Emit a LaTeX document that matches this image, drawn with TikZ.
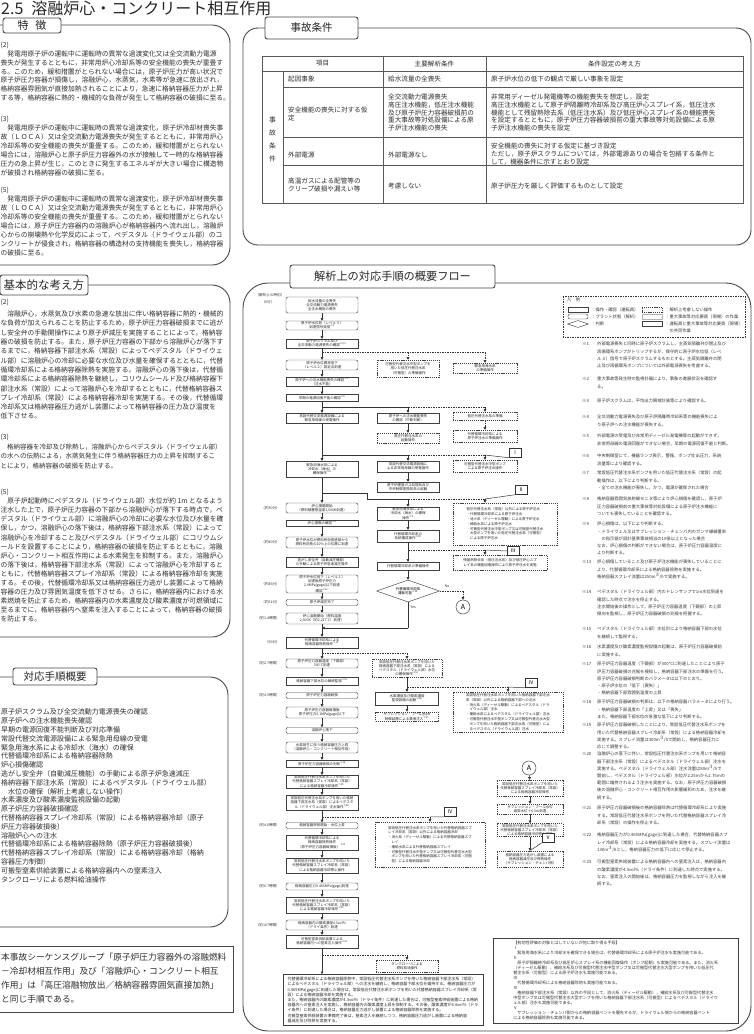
\documentclass[tikz,border=0pt]{standalone}
\usepackage{fontspec}
\setmainfont{Noto Sans CJK JP}
\usetikzlibrary{arrows.meta,shapes.geometric}
\newcommand{\flowbox}[6]{\node[#1, minimum width=#4pt, minimum height=#5pt] (#2) at (#3) {#6};}
\newcommand{\sref}[1]{\textsuperscript{※#1}}
\newcommand{\noteitem}[4]{\node[ntx] (#1a) at (582,#2) {※#3}; \node[ntx] (#1b) at (597,#2) {#4};}
\begin{document}
\begin{tikzpicture}[x=1pt,y=-1pt,
  panel/.style={draw=black!72, line width=0.9pt},
  tabl/.style={draw=black!65, line width=0.5pt},
  lblbox/.style={draw=black!72, line width=0.9pt, fill=white, rounded corners=2.5pt, inner sep=0pt, text=black!85},
  body/.style={anchor=north west, align=left, inner sep=0pt, text=black!82, font=\fontsize{6.75}{9}\selectfont},
  tt/.style={anchor=west, align=left, inner sep=0pt, text=black!82, font=\fontsize{6.6}{7.8}\selectfont},
  op/.style={draw=black!75, line width=0.45pt, fill=white, align=center, inner sep=0.3pt, text=black!85, font=\fontsize{3.5}{4.2}\selectfont},
  st/.style={op, rounded corners=2pt},
  nop/.style={op, dash pattern=on 1.2pt off 0.9pt},
  lst/.style={nop, align=left, font=\fontsize{3.5}{4.8}\selectfont},
  arr/.style={draw=black!80, line width=0.5pt, -{Triangle[length=2.6pt,width=2.6pt]}},
  darr/.style={arr, dash pattern=on 1.5pt off 1pt},
  dln/.style={draw=black!80, line width=0.5pt, dash pattern=on 1.5pt off 1pt},
  sln/.style={draw=black!80, line width=0.5pt},
  tlab/.style={anchor=east, inner sep=0pt, font=\fontsize{3.6}{4.2}\selectfont, text=black!80},
  roman/.style={draw=black!80, line width=0.5pt, fill=white, inner sep=0.5pt, minimum width=12pt, minimum height=9pt, font=\fontsize{5}{5}\selectfont},
  ntx/.style={anchor=north west, align=left, inner sep=0pt, text=black!78, font=\fontsize{4.3}{7.2}\selectfont},
]
\useasboundingbox (0,0) rectangle (753,1034);
\clip (0,0) rectangle (753,1034);
\fill[white] (0,0) rectangle (753,1034);

% ---------------- title
\node[anchor=base west, inner sep=0pt, font=\fontsize{16}{16}\selectfont, text=black!85] (title) at (1,14.6) {2.5\hspace{8pt}溶融炉心・コンクリート相互作用};

% ---------------- left panels
\draw[panel, rounded corners=18pt] (-30,25) rectangle (230,265);
\node[lblbox, minimum width=58pt, minimum height=15pt, font=\fontsize{11}{11}\selectfont] (tokucho) at (32,25.5) {特\hspace{7pt}徴};

\node[body] (t2l) at (0.5,41.7) {(2)};
\node[body, font=\fontsize{6.75}{8.75}\selectfont] (t2) at (0.5,50.7) {　発電用原子炉の運転中に運転時の異常な過渡変化又は全交流動力電源\\
喪失が発生するとともに，非常用炉心冷却系等の安全機能の喪失が重畳す\\
る。このため，緩和措置がとられない場合には，原子炉圧力が高い状況で\\
原子炉圧力容器が損傷し，溶融炉心，水蒸気，水素等が急速に放出され，\\
格納容器雰囲気が直接加熱されることにより，急速に格納容器圧力が上昇\\
する等，格納容器に熱的・機械的な負荷が発生して格納容器の破損に至る。};

\node[body] (t3l) at (0.5,115.7) {(3)};
\node[body] (t3) at (0.5,124.7) {　発電用原子炉の運転中に運転時の異常な過渡変化，原子炉冷却材喪失事\\
故（ＬＯＣＡ）又は全交流動力電源喪失が発生するとともに，非常用炉心\\
冷却系等の安全機能の喪失が重畳する。このため，緩和措置がとられない\\
場合には，溶融炉心と原子炉圧力容器外の水が接触して一時的な格納容器\\
圧力の急上昇が生じ，このときに発生するエネルギが大きい場合に構造物\\
が破損され格納容器の破損に至る。};

\node[body] (t5l) at (0.5,186.7) {(5)};
\node[body] (t5) at (0.5,195.7) {　発電用原子炉の運転中に運転時の異常な過渡変化，原子炉冷却材喪失事\\
故（ＬＯＣＡ）又は全交流動力電源喪失が発生するとともに，非常用炉心\\
冷却系等の安全機能の喪失が重畳する。このため，緩和措置がとられない\\
場合には，原子炉圧力容器内の溶融炉心が格納容器内へ流れ出し，溶融炉\\
心からの崩壊熱や化学反応によって，ペデスタル（ドライウェル部）のコ\\
ンクリートが侵食され，格納容器の構造材の支持機能を喪失し，格納容器\\
の破損に至る。};

\draw[panel, rounded corners=18pt] (-30,285) rectangle (230,637);
\node[lblbox, minimum width=88pt, minimum height=20pt, font=\fontsize{11.5}{11.5}\selectfont] (kihon) at (44,285) {基本的な考え方};

\node[body] (k2l) at (0.5,298.7) {(2)};
\node[body, font=\fontsize{6.75}{9.3}\selectfont] (k2) at (0.5,310.7) {　溶融炉心，水蒸気及び水素の急速な放出に伴い格納容器に熱的・機械的\\
な負荷が加えられることを防止するため，原子炉圧力容器破損までに逃が\\
し安全弁の手動開操作により原子炉減圧を実施することによって，格納容\\
器の破損を防止する。また，原子炉圧力容器の下部から溶融炉心が落下す\\
るまでに，格納容器下部注水系（常設）によってペデスタル（ドライウェ\\
ル部）に溶融炉心の冷却に必要な水位及び水量を確保するとともに，代替\\
循環冷却系による格納容器除熱を実施する。溶融炉心の落下後は，代替循\\
環冷却系による格納容器除熱を継続し，コリウムシールド及び格納容器下\\
部注水系（常設）によって溶融炉心を冷却するとともに，代替格納容器ス\\
プレイ冷却系（常設）による格納容器冷却を実施する。その後，代替循環\\
冷却系又は格納容器圧力逃がし装置によって格納容器の圧力及び温度を\\
低下させる。};

\node[body] (k3l) at (0.5,433.7) {(3)};
\node[body, font=\fontsize{6.5}{9.5}\selectfont] (k3) at (0.5,443.7) {　格納容器を冷却及び除熱し，溶融炉心からペデスタル（ドライウェル部）\\
の水への伝熱による，水蒸気発生に伴う格納容器圧力の上昇を抑制するこ\\
とにより，格納容器の破損を防止する。};

\node[body] (k5l) at (0.5,488.7) {(5)};
\node[body, font=\fontsize{6.75}{9.1}\selectfont] (k5) at (0.5,497.7) {　原子炉起動時にペデスタル（ドライウェル部）水位が約 1m となるよう\\
注水した上で，原子炉圧力容器の下部から溶融炉心が落下する時点で，ペ\\
デスタル（ドライウェル部）に溶融炉心の冷却に必要な水位及び水量を確\\
保し，かつ，溶融炉心の落下後は，格納容器下部注水系（常設）によって\\
溶融炉心を冷却すること及びペデスタル（ドライウェル部）にコリウムシ\\
ールドを設置することにより，格納容器の破損を防止するとともに，溶融\\
炉心・コンクリート相互作用による水素発生を抑制する。また，溶融炉心\\
の落下後は，格納容器下部注水系（常設）によって溶融炉心を冷却すると\\
ともに，代替格納容器スプレイ冷却系（常設）による格納容器冷却を実施\\
する。その後，代替循環冷却系又は格納容器圧力逃がし装置によって格納\\
容器の圧力及び雰囲気温度を低下させる。さらに，格納容器内における水\\
素燃焼を防止するため，格納容器内の水素濃度及び酸素濃度が可燃領域に\\
至るまでに，格納容器内へ窒素を注入することによって，格納容器の破損\\
を防止する。};

\draw[panel, rounded corners=18pt] (-30,677) rectangle (228,927);
\node[lblbox, minimum width=84pt, minimum height=17pt, font=\fontsize{10.5}{10.5}\selectfont] (taio) at (55,676.5) {対応手順概要};
\node[body, font=\fontsize{7}{8.8}\selectfont] (taiolist) at (1,708.7) {原子炉スクラム及び全交流動力電源喪失の確認\\
原子炉への注水機能喪失確認\\
早期の電源回復不能判断及び対応準備\\
常設代替交流電源設備による緊急用母線の受電\\
緊急用海水系による冷却水（海水）の確保\\
代替循環冷却系による格納容器除熱\\
炉心損傷確認\\
逃がし安全弁（自動減圧機能）の手動による原子炉急速減圧\\
格納容器下部注水系（常設）によるペデスタル（ドライウェル部）\\
　水位の確保（解析上考慮しない操作）\\
水素濃度及び酸素濃度監視設備の起動\\
原子炉圧力容器破損確認\\
代替格納容器スプレイ冷却系（常設）による格納容器冷却（原子\\
炉圧力容器破損後）\\
溶融炉心への注水\\
代替循環冷却系による格納容器除熱（原子炉圧力容器破損後）\\
代替格納容器スプレイ冷却系（常設）による格納容器冷却（格納\\
容器圧力制御）\\
可搬型窒素供給装置による格納容器内への窒素注入\\
タンクローリによる燃料給油操作};

\draw[panel, line width=0.6pt] (-5,946) rectangle (233,1012);
\node[body, font=\fontsize{8.7}{14}\selectfont] (note) at (1,953) {本事故シーケンスグループ「原子炉圧力容器外の溶融燃料\\
－冷却材相互作用」及び「溶融炉心・コンクリート相互\\
作用」は「高圧溶融物放出／格納容器雰囲気直接加熱」\\
と同じ手順である。};

% ---------------- accident conditions
\draw[panel, rounded corners=15pt] (243,28) rectangle (751,245);
\node[lblbox, minimum width=93pt, minimum height=22pt, font=\fontsize{10.5}{10.5}\selectfont] (jiko) at (311.5,28) {事故条件};

\draw[tabl] (262,56) rectangle (743,203);
\draw[tabl] (262,71) -- (743,71);
\foreach \yy in {87,137,165} \draw[tabl] (283,\yy) -- (743,\yy);
\draw[tabl] (283,71) -- (283,203);
\draw[tabl] (383,56) -- (383,203);
\draw[tabl] (486,56) -- (486,203);
\node[tt, anchor=center] (h1) at (322.5,63.5) {項目};
\node[tt, anchor=center] (h2) at (434.5,63.5) {主要解析条件};
\node[tt, anchor=center] (h3) at (614.5,63.5) {条件設定の考え方};
\node[tt, anchor=center, align=center, font=\fontsize{6.8}{13}\selectfont] (vlab) at (272.5,139) {事\\故\\条\\件};
\node[tt] (r1a) at (288,79) {起因事象};
\node[tt] (r1b) at (388,79) {給水流量の全喪失};
\node[tt] (r1c) at (491,79) {原子炉水位の低下の観点で厳しい事象を設定};
\node[tt] (r2a) at (288,114) {安全機能の喪失に対する仮\\定};
\node[tt] (r2b) at (388,112.5) {全交流動力電源喪失\\高圧注水機能，低圧注水機能\\及び原子炉圧力容器破損前の\\重大事故等対処設備による原\\子炉注水機能の喪失};
\node[tt] (r2c) at (491,112.5) {非常用ディーゼル発電機等の機能喪失を想定し，設定\\高圧注水機能として原子炉隔離時冷却系及び高圧炉心スプレイ系，低圧注水\\機能として残留熱除去系（低圧注水系）及び低圧炉心スプレイ系の機能喪失\\を設定するとともに，原子炉圧力容器破損前の重大事故等対処設備による原\\子炉注水機能の喪失を設定};
\node[tt] (r3a) at (288,155) {外部電源};
\node[tt] (r3b) at (388,155) {外部電源なし};
\node[tt] (r3c) at (491,154) {安全機能の喪失に対する仮定に基づき設定\\ただし，原子炉スクラムについては，外部電源ありの場合を包絡する条件と\\して，機器条件に示すとおり設定};
\node[tt] (r4a) at (288,185) {高温ガスによる配管等の\\クリープ破損や漏えい等};
\node[tt] (r4b) at (388,186) {考慮しない};
\node[tt] (r4c) at (491,186) {原子炉圧力を厳しく評価するものとして設定};

% ---------------- flow panel
\draw[panel, rounded corners=25pt] (243,283) rectangle (751,1031);
\node[lblbox, minimum width=205pt, minimum height=23pt, font=\fontsize{11.2}{11.2}\selectfont] (flowttl) at (392.5,276.5) {解析上の対応手順の概要フロー};

% legend
\draw[dln] (563,296) rectangle (745,337);
\node[ntx] (lg0) at (567,298) {凡　例};
\node[op, minimum width=20pt, minimum height=5pt] (lg1) at (578,309.5) {};
\node[st, minimum width=20pt, minimum height=5pt] (lg2) at (578,316.5) {};
\node[draw=black!75, line width=0.45pt, diamond, aspect=3.5, inner sep=0pt, minimum width=21pt, minimum height=7pt] (lg3) at (578,324) {};
\node[ntx] (lg1t) at (591,307.3) {：操作・確認（運転員）};
\node[ntx] (lg2t) at (591,314.3) {：プラント状態（解析）};
\node[ntx] (lg3t) at (591,321.8) {：判断};
\node[nop, minimum width=20pt, minimum height=5pt] (lg4) at (652,309.5) {};
\node[op, draw=black!30, minimum width=20pt, minimum height=5pt] (lg5) at (652,316.5) {};
\node[op, line width=1pt, minimum width=20pt, minimum height=5pt] (lg6) at (652,323.5) {};
\node[ntx] (lg4t) at (665,307.3) {：解析上考慮しない操作};
\node[ntx] (lg5t) at (665,314.3) {：重大事故等対応要員（現場）の作業};
\node[ntx] (lg6t) at (665,321.3) {：運転員と重大事故等対応要員（現場）\\　の共同作業};

% time labels
\node[tlab, anchor=center] (tl0) at (270,295) {（解析上の時刻）};
\node[tlab, anchor=center] (tl1) at (268,302) {（0分）};
\node[tlab] (tl2) at (280,508) {（約30分）};
\node[tlab] (tl3) at (280,542.5) {（約40分）};
\node[tlab] (tl4) at (280,584) {（約46分）};
\node[tlab] (tl5) at (280,602.5) {（約51分）};
\node[tlab] (tl6) at (280,618.5) {（約1.4時間）};
\node[tlab] (tl7) at (280,642.5) {（90分）};
\node[tlab] (tl8) at (280,663.5) {（約2.7時間）};
\node[tlab] (tl9) at (280,695.5) {（約4.5時間）};
\node[tlab] (tl10) at (280,825.5) {（約4.6時間）};
\node[tlab] (tl11) at (280,886.5) {（約6.7時間）};
\node[tlab] (tl12) at (280,925) {（約167時間）};

% main column
\flowbox{st}{m1}{322,305}{72}{16}{給水流量の全喪失\\全交流動力電源喪失\\全注水機能の喪失}
\flowbox{st}{m2}{322,325.5}{72}{9}{原子炉水位低（レベル３）\\到達信号発信\sref{1}}
\flowbox{op}{m3}{322,343.5}{72}{9}{原子炉スクラム及び\\全交流動力電源喪失の確認\sref{2,3}}
\flowbox{st}{m4}{322,365}{72}{10}{原子炉水位異常低下\\（レベル２）設定点到達}
\flowbox{op}{m5}{322,381.5}{72}{8}{原子炉への注水機能喪失の確認\sref{4}\\（注水不能）}
\flowbox{op}{m6}{322,398}{72}{7}{早期の電源回復不能の確認\sref{5}}
\flowbox{op}{m7}{322,418}{72}{10}{常設代替交流電源設備による\\緊急用母線の受電操作}
\flowbox{op}{m8}{322,469}{72}{16}{緊急用海水系による\\冷却水（海水）の\\確保操作\sref{6}}
\flowbox{st}{m9}{322,508}{72}{10}{炉心損傷開始\\（燃料被覆管温度1,000K到達）}
\flowbox{op}{m10}{322,523}{72}{6}{炉心損傷の確認\sref{8}}
\flowbox{st}{m11}{322,542.5}{72}{11}{原子炉水位が燃料有効長底部から\\燃料有効長の20\%上の位置に到達}
\flowbox{op}{m12}{322,562}{72}{10}{逃がし安全弁（自動減圧機能）\\の手動による原子炉急速減圧操作}
\flowbox{st}{m13}{322,584}{72}{18}{原子炉水位低下（レベル１）\\到達後原子炉圧力\\2.0MPa[gage]以下到達\\確認\sref{11}}
\flowbox{st}{m14}{322,602.5}{72}{6}{原子炉減圧完了}
\flowbox{st}{m15}{322,618.5}{72}{11}{炉心溶融開始（燃料温度\\2,500K（約2,227℃）到達）}
\flowbox{op}{m16}{322,642.5}{72}{11}{代替循環冷却系による\\格納容器除熱操作\sref{13}}
\flowbox{st}{m17}{322,663.5}{72}{9}{原子炉圧力容器温度（下鏡部）\\300℃到達}
\flowbox{op}{m18}{322,681}{72}{8}{格納容器下部水位の継続監視\sref{15}}
\flowbox{st}{m19}{322,695.5}{72}{6}{原子炉圧力容器破損}
\flowbox{st}{m20}{322,712.5}{72}{11}{原子炉圧力容器破損後\\原子炉圧力0.1MPa[gage]以下}
\flowbox{st}{m21}{322,730.5}{72}{6}{溶融炉心落下}
\flowbox{st}{m22}{322,747.5}{72}{11}{水素発生に伴う格納容器圧力上昇\\（溶融炉心・コンクリート相互作用）}
\flowbox{op}{m23}{322,763.5}{72}{7}{原子炉圧力容器破損の判断\sref{18}}
\flowbox{op}{m24}{322,781.5}{72}{13}{常設低圧代替注水系ポンプを用いた\\代替格納容器スプレイ冷却系（常設）\\による格納容器冷却操作\sref{19}}
\flowbox{op}{m25}{322,802.5}{72}{15}{常設低圧代替注水系ポンプを用いた格納\\容器下部注水系（常設）によるペデスタ\\ル（ドライウェル部）注水操作\sref{20}}
\flowbox{st}{m26}{322,825.5}{72}{6}{格納容器除熱開始・水位上昇}
\flowbox{op}{m27}{322,842.5}{72}{15}{代替循環冷却系による\\格納容器除熱操作\\（原子炉圧力容器破損後）\sref{21}}
\flowbox{op}{m28}{322,865.5}{72}{15}{常設低圧代替注水系ポンプを用いた\\代替格納容器スプレイ冷却系（常設）\\による格納容器冷却停止操作}
\flowbox{st}{m29}{322,886.5}{72}{7}{格納容器圧力0.465MPa[gage]到達}
\flowbox{op}{m30}{322,905}{72}{16}{常設低圧代替注水系ポンプを用いた\\代替格納容器スプレイ冷却系（常設）\\による格納容器冷却操作\sref{22}}
\flowbox{st}{m31}{322,925}{72}{10}{格納容器内の酸素濃度4.3vol\%\\（ドライ条件）到達}
\flowbox{op}{m32}{322,941.5}{72}{13}{可搬型窒素供給装置による\\格納容器内への窒素注入操作\sref{23}}
\node[op, align=left, minimum width=200pt, minimum height=50pt, inner sep=3pt, font=\fontsize{4}{5.2}\selectfont] (big) at (383,1000) {代替循環冷却系による格納容器除熱中，常設低圧代替注水系ポンプを用いた格納容器下部注水系（常設）\\
によるペデスタル（ドライウェル部）への注水を継続し，格納容器下部水位を維持する。格納容器圧力が\\
0.465MPa[gage]に到達した場合は，常設低圧代替注水系ポンプを用いた代替格納容器スプレイ冷却系（常\\
設）による格納容器冷却を実施する。\\
また，格納容器内の酸素濃度が4.3vol\%（ドライ条件）に到達した場合は，可搬型窒素供給装置による格納\\
容器内への窒素注入を実施し，格納容器内の酸素濃度上昇を抑制する。その後，酸素濃度が4.4vol\%（ドラ\\
イ条件）に到達した場合は，格納容器圧力逃がし装置による格納容器除熱を実施する。\\
可搬型窒素供給装置の準備完了後は，窒素注入を継続しつつ，格納容器圧力逃がし装置による格納容\\
器減圧及び除熱を実施する。};

\foreach \a/\b in {m1/m2,m2/m3,m3/m4,m4/m5,m5/m6,m6/m7,m7/m8,m8/m9,m9/m10,m10/m11,m11/m12,m12/m13,m13/m14,m14/m15,m15/m16,m16/m17,m17/m18,m18/m19,m19/m20,m20/m21,m21/m22,m22/m23,m23/m24,m24/m25,m25/m26,m26/m27,m27/m28,m28/m29,m29/m30,m30/m31,m31/m32}
  \draw[arr] (\a) -- (\b);
\draw[arr] (m32.south) -- (m32.south |- big.north);

% column 2
\flowbox{nop}{c2x}{408,368.5}{62}{17}{可搬型代替注水中型ポンプを\\用いた低圧代替注水系\\（可搬型）の準備操作}
\flowbox{op}{c2a}{408,418}{62}{10}{原子炉への注水機能喪失\\の確認（中断判断）}
\flowbox{nop}{c2b}{408,438}{62}{10}{高圧代替注水系の\\起動操作}
\flowbox{op}{c2c}{408,466.5}{62}{11}{常設代替交流電源設備に\\よる非常用母線の受電操作}
\flowbox{op}{c2d}{408,487}{62}{10}{原子炉建屋ガス処理系及び\\中央制御室換気系の起動}
\flowbox{op}{c2e}{408,513.5}{62}{13}{緊急用海水系による\\冷却水（海水）の確保\\操作\sref{9}}
\flowbox{op}{c2f}{408,536}{62}{12}{代替循環冷却系の\\系統構成操作\sref{10}}
\flowbox{op}{c2g}{408,566}{62}{8}{代替循環冷却系の準備操作}
\node[draw=black!75, line width=0.45pt, fill=white, diamond, aspect=2.9, inner sep=0pt, minimum width=63pt, minimum height=22pt, align=center, font=\fontsize{3.5}{4.2}\selectfont] (dia) at (408,591) {代替循環冷却系\\運転可能\sref{12}};
\node[draw=black!75, line width=0.5pt, circle, minimum size=14pt, inner sep=0pt, font=\fontsize{7}{7}\selectfont] (A1) at (463,607) {A};
\node[tlab, anchor=center] (nolab) at (447,586) {No};
\node[tlab, anchor=center] (yeslab) at (413,607) {Yes};
\flowbox{nop}{c2h}{407,668}{70}{18}{常設低圧代替注水系ポンプを用いた\\格納容器下部注水系（常設）による\\ペデスタル（ドライウェル部）水位\\の確保操作\sref{14}}
\flowbox{op}{c2i}{407,698.5}{63}{13}{水素濃度及び酸素濃度\\監視設備の起動\sref{16}}
\flowbox{nop}{c2j}{407,716.5}{63}{9}{サプレッション・プール水pH\\制御装置による薬液注入\sref{17}}
\flowbox{nop}{c2k}{407,966}{62}{12}{タンクローリによる\\燃料給油操作}
\node[lst, minimum width=110pt, minimum height=45pt] (c4) at (430,844.5) {常設低圧代替注水系ポンプを用いた代替格納容器スプ\\
レイ冷却系（常設）以外による格納容器冷却\\
・消火系（ディーゼル駆動）による代替格納容器スプ\\
　レイ\\
・補給水系による代替格納容器スプレイ\\
・可搬型代替注水中型ポンプ又は可搬型代替注水大型\\
　ポンプを用いた代替格納容器スプレイ冷却系（可搬\\
　型）による格納容器冷却};

% column 3
\flowbox{nop}{c3a}{485,368}{64}{10}{緊急用海水系\\の準備操作}
\flowbox{nop}{c3b}{485,416}{64}{8}{低圧代替注水系の準備}
\flowbox{nop}{c3c}{485,436}{64}{12}{代替循環冷却系による\\原子炉注水の準備操作}
\flowbox{nop}{c3d}{485,466}{64}{12}{可搬型代替注水中型ポンプ\\による原子炉注水操作}
\node[lst, minimum width=104pt, minimum height=42pt] (c3e) at (505,524) {低圧代替注水系（常設）以外による原子炉注水\\
・代替循環冷却系による原子炉注水\\
・消火系（ディーゼル駆動）による原子炉注水\\
・補給水系による原子炉注水\\
・可搬型代替注水中型ポンプ又は可搬型代替注水\\
　大型ポンプを用いた低圧代替注水系（可搬型）\\
　による原子炉注水};
\node[lst, minimum width=94pt, minimum height=15pt] (c3f) at (500,562.5) {残留熱除去系（低圧注水系）及び低圧炉心スプ\\レイ系の機能回復操作により原子炉注水を実施};
\node[lst, minimum width=110pt, minimum height=40pt] (c3g) at (508,712) {常設低圧代替注水系ポンプを用いた格納容器下部注水\\
系（常設）以外による格納容器下部への注水\\
・消火系（ディーゼル駆動）によるペデスタル（ドラ\\
　イウェル部）注水\\
・補給水系によるペデスタル（ドライウェル部）注水\\
・可搬型代替注水中型ポンプ又は可搬型代替注水大型\\
　ポンプを用いた格納容器下部注水系（可搬型）によ\\
　るペデスタル（ドライウェル部）注水};

% A branch column
\node[draw=black!75, line width=0.5pt, circle, minimum size=14pt, inner sep=0pt, font=\fontsize{7}{7}\selectfont] (A2) at (529,768) {A};
\flowbox{nop}{b1}{530,788}{66}{16}{常設低圧代替注水系ポンプを用いた\\代替格納容器スプレイ冷却系（常設）\\による格納容器冷却操作}
\flowbox{nop}{b2}{530,809}{66}{10}{サプレッション・プール水位\\通常水位＋6.5m到達}
\flowbox{nop}{b3}{530,830}{66}{13}{常設低圧代替注水系ポンプを用いた\\代替格納容器スプレイ冷却系（常設）\\による格納容器冷却停止操作}
\flowbox{nop}{b4}{530,859}{66}{16}{格納容器圧力逃がし装置による\\格納容器減圧及び除熱操作\\（サプレッション・チェンバ側）}
\draw[arr] (A2) -- (b1);
\draw[arr] (b1) -- (b2);
\draw[arr] (b2) -- (b3);
\draw[arr] (b3) -- (b4);

% branch connectors
\coordinate (j1) at (322,352);
\coordinate (j1b) at (408,352);
\coordinate (j1c) at (485,352);
\draw[dln] (j1) -- (j1c);
\draw[darr] (j1b) -- (c2x);
\draw[darr] (j1c) -- (c3a);

\coordinate (j2) at (322,407);
\coordinate (j2b) at (408,407);
\coordinate (j2c) at (485,407);
\draw[sln] (j2) -- (j2b);
\draw[arr] (j2b) -- (c2a);
\draw[dln] (j2b) -- (j2c);
\draw[darr] (j2c) -- (c3b);
\draw[arr] (c2a) -- (c2b);
\draw[darr] (c3b) -- (c3c);

\coordinate (j3) at (322,455);
\coordinate (j3b) at (408,455);
\coordinate (j3c) at (485,455);
\draw[sln] (j3) -- (j3b);
\draw[arr] (j3b) -- (c2c);
\draw[dln] (j3b) -- (j3c);
\draw[darr] (j3c) -- (c3d);
\draw[arr] (c2c) -- (c2d);

\coordinate (j4) at (322,493);
\coordinate (j4a) at (367,493);
\coordinate (j4b) at (367,499);
\coordinate (j4c) at (408,499);
\coordinate (j4d) at (485,499);
\draw[sln] (j4) -- (j4a) -- (j4b) -- (j4c);
\draw[arr] (j4c) -- (c2e);
\draw[dln] (j4c) -- (j4d);
\draw[darr] (j4d) -- (j4d |- c3e.north);
\draw[arr] (c2e) -- (c2f);
\draw[arr] (c2f) -- (c2g);
\coordinate (j5) at (408,550);
\coordinate (j5c) at (485,550);
\draw[dln] (j5) -- (j5c);
\draw[darr] (j5c) -- (j5c |- c3f.north);
\draw[arr] (c2g) -- (dia);
\coordinate (no1) at (463,591);
\draw[dln] (dia.east) -- (no1);
\draw[darr] (no1) -- (A1);
\coordinate (yes1) at (408,628);
\coordinate (yes2) at (322,628);
\draw[sln] (dia.south) -- (yes1);
\draw[arr] (yes1) -- (yes2);

\coordinate (j6) at (322,653);
\coordinate (j6b) at (407,653);
\draw[dln] (j6) -- (j6b);
\draw[darr] (j6b) -- (c2h);
\draw[arr] (c2h) -- (c2i);
\draw[arr] (c2i) -- (c2j);
\coordinate (j7) at (407,687);
\coordinate (j7c) at (508,687);
\draw[dln] (j7) -- (j7c);
\draw[darr] (j7c) -- (c3g);

\coordinate (j8) at (322,817);
\coordinate (j8c) at (430,817);
\draw[dln] (j8) -- (j8c);
\draw[darr] (j8c) -- (c4);

\coordinate (j9) at (322,955);
\coordinate (j9b) at (407,955);
\draw[dln] (j9) -- (j9b);
\draw[darr] (j9b) -- (c2k);

% roman labels
\node[roman] (rI) at (515,453) {Ⅰ};
\draw[sln] (rI.south west) -- (j3c);
\node[roman] (rII) at (521,490) {Ⅱ};
\draw[sln] (rII.south west) -- (j4d);
\node[roman] (rIII) at (513,551) {Ⅲ};
\draw[sln] (rIII.west) -- (j5c);
\node[roman] (rIVa) at (531,683) {Ⅳ};
\draw[sln] (rIVa.south west) -- (j7c);
\node[roman] (rIVb) at (450,812) {Ⅳ};
\draw[sln] (rIVb.south west) -- (j8c);
\node[roman] (rV) at (548,838) {Ⅴ};
\coordinate (vtip) at (531,850);
\draw[sln] (rV.south west) -- (vtip);

% notes
\noteitem{n1}{342}{1}{外部電源喪失と同時に原子炉スクラムし，主蒸気隔離弁が閉止及び\\再循環系ポンプがトリップするが，保守的に原子炉水位低（レベ\\ル３）信号で原子炉スクラムするものとする。主蒸気隔離弁の閉\\止及び再循環系ポンプについては外部電源喪失を考慮する。}
\noteitem{n2}{377}{2}{重大事故等発生時の監視計器により，事象の進展状況を確認す\\る。}
\noteitem{n3}{399}{3}{原子炉スクラムは，平均出力領域計装等により確認する。}
\noteitem{n4}{415}{4}{全交流動力電源喪失及び原子炉隔離時冷却系等の機能喪失によ\\り原子炉への注水機能が喪失する。}
\noteitem{n5}{434}{5}{外部電源の受電及び非常用ディーゼル発電機等の起動ができず，\\非常用母線の電源回復ができない場合，早期の電源回復不能と判断。}
\noteitem{n6}{454}{6}{中央制御室にて，機器ランプ表示，警報，ポンプ吐出圧力，系統\\流量等により確認する。}
\noteitem{n7}{471}{7}{常設低圧代替注水系ポンプを用いた低圧代替注水系（常設）の起\\動操作は，以下により判断する。\\・全ての注水機能が喪失し，かつ，電源が確保された場合}
\noteitem{n8}{497}{8}{格納容器雰囲気放射線モニタ等により炉心損傷を確認し，原子炉\\圧力容器破損前の重大事故等対処設備による原子炉注水機能に\\ついても喪失していることを確認する。}
\noteitem{n9}{522}{9}{炉心損傷は，以下により判断する。\\・ドライウェル又はサプレッション・チェンバ内のガンマ線線量率\\　の指示値が設計基準事故相当の10倍以上となった場合\\なお，炉心損傷の判断ができない場合は，原子炉圧力容器温度に\\より判断する。}
\noteitem{n10}{560}{13}{炉心損傷していること及び原子炉注水機能が喪失していることに\\より，代替循環冷却系による格納容器除熱を実施する。\\格納容器スプレイ流量は250m$^{3}$/hで実施する。}
\noteitem{n11}{590}{14}{ペデスタル（ドライウェル部）内のドレンサンプで1m水位到達を\\確認した時点で注水を停止する。\\注水開始後の操作として，原子炉圧力容器温度（下鏡部）の上昇\\傾向を監視し，原子炉圧力容器破損の兆候を把握する。}
\noteitem{n12}{627}{15}{ペデスタル（ドライウェル部）水位計により格納容器下部の水位\\を継続して監視する。}
\noteitem{n13}{645}{16}{水素濃度及び酸素濃度監視設備の起動は，原子炉圧力容器破損前\\に実施する。}
\noteitem{n14}{662}{17}{原子炉圧力容器温度（下鏡部）が300℃に到達したことにより原子\\炉圧力容器破損の兆候を検知し，格納容器下部注水の準備を行う。\\原子炉圧力容器破損判断のパラメータは以下のとおり。\\・原子炉水位の「低下（喪失）」\\・格納容器下部雰囲気温度の上昇}
\noteitem{n15}{700}{18}{原子炉圧力容器破損の判断は，以下の格納容器パラメータにより行う。\\・格納容器下部温度の「上昇」又は「喪失」\\また，格納容器下部水位の急激な低下により判断する。}
\noteitem{n16}{723}{19}{原子炉圧力容器破損したことにより，常設低圧代替注水系ポンプを\\用いた代替格納容器スプレイ冷却系（常設）による格納容器冷却を\\実施する。スプレイ流量は300m$^{3}$/hで開始し，格納容器圧力に\\応じて調整する。}
\noteitem{n17}{752}{20}{溶融炉心の落下に伴い，常設低圧代替注水系ポンプを用いて格納容\\器下部注水系（常設）によるペデスタル（ドライウェル部）注水を\\実施する。ペデスタル（ドライウェル部）注水流量は80m$^{3}$/hで\\開始し，ペデスタル（ドライウェル部）水位が2.25mから2.75mの\\範囲に維持されるよう注水を実施する。なお，原子炉圧力容器破損\\後の溶融炉心・コンクリート相互作用の影響緩和のため，注水を継\\続する。}
\noteitem{n18}{806}{21}{原子炉圧力容器破損後の格納容器除熱は代替循環冷却系により実施\\する。常設低圧代替注水系ポンプを用いた代替格納容器スプレイ冷\\却系（常設）の操作を停止する。}
\noteitem{n19}{833}{22}{格納容器圧力が0.465MPa[gage]に到達した場合，代替格納容器スプ\\レイ冷却系（常設）による格納容器冷却を実施する。スプレイ流量は\\130m$^{3}$/hとし，格納容器圧力の低下に応じて停止する。}
\noteitem{n20}{860}{23}{可搬型窒素供給装置による格納容器内への窒素注入は，格納容器内\\の酸素濃度が4.3vol\%（ドライ条件）に到達した時点で実施する。\\なお，窒素注入の開始後は，格納容器圧力を監視しながら注入を継\\続する。}

% bottom-right alternatives box
\node[op, align=left, anchor=north west, minimum width=245pt, minimum height=84pt, inner sep=3pt, font=\fontsize{4.1}{5}\selectfont, text=black!80] (alt) at (493,938) {【有効性評価の対象とはしていないが他に取り得る手段】\\
Ⅰ\\
　緊急用海水系により冷却水を確保できる場合は，代替循環冷却系による原子炉注水も実施可能である。\\
Ⅱ\\
　原子炉隔離時冷却系及び高圧炉心スプレイ系の機能回復操作（ポンプ起動）も実施可能である。また，消火系\\
（ディーゼル駆動），補給水系及び可搬型代替注水中型ポンプ又は可搬型代替注水大型ポンプを用いた低圧代\\
替注水系（可搬型）による原子炉注水も実施可能である。\\
Ⅲ\\
　代替循環冷却系による格納容器除熱も実施可能である。\\
Ⅳ\\
　格納容器下部注水系（常設）以外の手段として，消火系（ディーゼル駆動），補給水系及び可搬型代替注水\\
中型ポンプ又は可搬型代替注水大型ポンプを用いた格納容器下部注水系（可搬型）によるペデスタル（ドライウ\\
ェル部）注水も実施可能である。\\
Ⅴ\\
　サプレッション・チェンバ側からの格納容器ベントを優先するが，ドライウェル側からの格納容器ベント\\
による格納容器除熱も実施可能である。};

\end{tikzpicture}
\end{document}
